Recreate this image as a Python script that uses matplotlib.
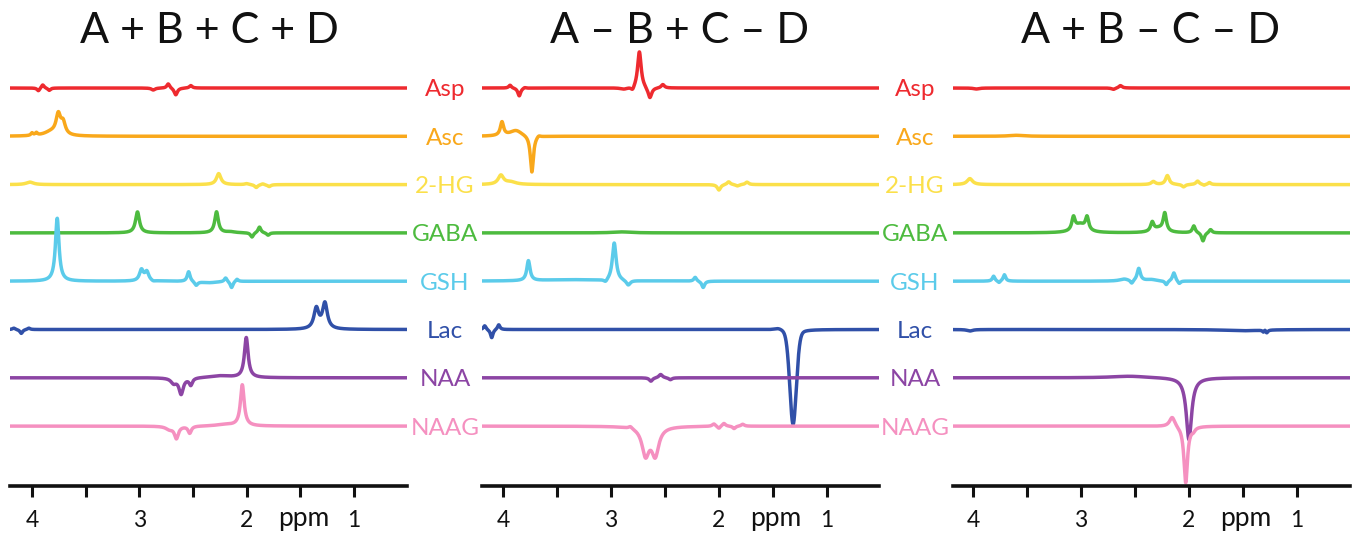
import numpy as np
import matplotlib
matplotlib.use("Agg")
import matplotlib.pyplot as plt
from matplotlib.transforms import blended_transform_factory

plt.rcParams["font.family"] = ["Lato", "DejaVu Sans"]

# ---------------- data ----------------
metabolites = ["Asp", "Asc", "2-HG", "GABA", "GSH", "Lac", "NAA", "NAAG"]
colors = ["#ee2a2f", "#f9a81b", "#fbe04a", "#4dbb3f", "#5bcbea", "#3050a8", "#8c45a4", "#f590c0"]
titles = ["A + B + C + D", "A \u2013 B + C \u2013 D", "A + B \u2013 C \u2013 D"]
tick_values = [4, 3.5, 3, 2.5, 2, 1.5, 1]
tick_labels = ["4", "", "3", "", "2", "", "1"]
unit_label = "ppm"

# peak tables: (ppm, amplitude, half-width [ppm], gaussian fraction)
sum_peaks = {
    "Asp": [(3.94, -3, 0.015), (3.90, 3.5, 0.015), (3.84, -2.5, 0.015), (2.87, -2, 0.02),
            (2.73, 4.5, 0.016), (2.66, -7, 0.018), (2.52, 2.5, 0.016)],
    "Asc": [(4.00, 2.5, 0.012), (3.96, 2.5, 0.012), (3.82, 4, 0.08), (3.755, 19.5, 0.025), (3.71, 11.7, 0.025)],
    "2-HG": [(4.02, 2.5, 0.04), (2.26, 11, 0.025), (2.0, 1, 0.02), (1.91, -3, 0.018),
             (1.85, 1, 0.018), (1.79, -2, 0.018)],
    "GABA": [(3.017, 21, 0.022), (2.28, 21, 0.02), (2.15, 1.0, 0.05), (1.95, -4.5, 0.016),
             (1.88, 6, 0.016), (1.80, -2.5, 0.016)],
    "GSH": [(3.765, 63, 0.02), (2.98, 11, 0.022), (2.93, 9, 0.022), (2.87, -1, 0.02),
            (2.54, 10, 0.016), (2.47, -4, 0.018), (2.35, -1.5, 0.1), (2.195, 4, 0.015),
            (2.14, -6.5, 0.015), (2.09, 2.5, 0.015)],
    "Lac": [(4.17, 1.5, 0.015), (4.10, -4, 0.015), (4.03, 1.5, 0.015), (1.35, 20.4, 0.027), (1.27, 25.6, 0.027)],
    "NAA": [(2.68, -5, 0.03), (2.61, -16, 0.024), (2.52, -7, 0.018), (2.25, 2, 0.12), (2.003, 40, 0.021)],
    "NAAG": [(2.72, -3, 0.04), (2.654, -12, 0.022), (2.53, -7, 0.018), (2.2, 1.5, 0.1), (2.04, 41, 0.021)],
}

diff1_peaks = {
    "Asp": [(3.935, 3, 0.015), (3.85, -8, 0.016), (3.80, 1, 0.015), (2.88, -1.5, 0.04), (2.80, -4, 0.018),
            (2.737, 37, 0.02), (2.64, -11, 0.021), (2.52, 3.5, 0.018)],
    "Asc": [(4.01, 13.5, 0.018), (3.88, 6, 0.07), (3.733, -37, 0.017), (3.67, 2, 0.02)],
    "2-HG": [(4.02, 9, 0.03), (3.93, 2.5, 0.06), (2.0, -5.5, 0.018), (1.91, 3, 0.018),
             (1.83, -1.5, 0.018), (1.74, 2.5, 0.018)],
    "GABA": [(2.9, 1, 0.1)],
    "GSH": [(3.765, 20, 0.018), (3.4, 1.5, 0.3), (3.05, -3, 0.02), (2.97, 38, 0.021),
            (2.84, -5, 0.022), (2.22, 4, 0.015), (2.146, -6.5, 0.016)],
    "Lac": [(4.17, 4, 0.014), (4.105, -8.5, 0.014), (4.04, 5, 0.014), (1.45, 2, 0.05), (1.313, -95, 0.036, 0.8)],
    "NAA": [(2.63, -3.5, 0.018), (2.54, 3.5, 0.02), (2.45, -2, 0.018)],
    "NAAG": [(2.82, 2.3, 0.02), (2.68, -27.5, 0.04), (2.59, -27.5, 0.04), (2.047, 2.5, 0.018),
             (2.0, -2.5, 0.015), (1.954, 3, 0.018), (1.86, -2.5, 0.015), (1.78, 2, 0.018)],
}

diff2_peaks = {
    "Asp": [(3.97, -1, 0.03), (2.70, -1.5, 0.02), (2.635, 2.5, 0.018)],
    "Asc": [(3.6, 1, 0.08)],
    "2-HG": [(4.03, 6, 0.03), (2.33, 3, 0.022), (2.20, 9, 0.02), (2.05, -2.5, 0.018),
             (1.92, 3.5, 0.018), (1.86, -1, 0.012), (1.81, 2, 0.015)],
    "GABA": [(3.07, 13, 0.018), (2.944, 13, 0.018), (3.007, 8, 0.06), (2.34, 9, 0.018),
             (2.224, 18, 0.018), (2.28, 4, 0.06), (1.955, 7, 0.016), (1.87, -8.5, 0.016), (1.80, 3.5, 0.016)],
    "GSH": [(3.81, 5, 0.014), (3.76, -2, 0.014), (3.71, 6.5, 0.014), (2.6, 2, 0.05), (2.53, -3.5, 0.015),
            (2.465, 12.5, 0.018), (2.35, 1.5, 0.06), (2.21, -4, 0.015), (2.14, 8.5, 0.016), (2.09, -3, 0.015)],
    "Lac": [(4.03, -1.5, 0.03), (1.5, -1.2, 0.2), (1.31, -2, 0.01), (1.295, 1.5, 0.01), (1.28, -3, 0.012)],
    "NAA": [(2.55, 1.7, 0.2), (2.0, -62, 0.03)],
    "NAAG": [(2.155, 10, 0.03), (2.03, -57, 0.02), (1.96, -3, 0.02)],
}

panels = [sum_peaks, diff1_peaks, diff2_peaks]
xlims = [(4.205, 0.505), (4.195, 0.517), (4.186, 0.508)]

# ---------------- layout (pixel based) ----------------
W, H = 1358, 533
panel_left = [10, 482, 953]
panel_width = 397
axis_y = 486
top_y = 40
row0_y = 88
row_step = 48.3
label_x = [445, 915, None]
title_x = [209, 680, 1151]


def spectrum(x, peaks):
    y = np.zeros_like(x)
    for p in peaks:
        c, a, w = p[:3]
        g = p[3] if len(p) > 3 else 0.0
        u = (x - c) / w
        y += a * ((1 - g) / (1 + u ** 2) + g * np.exp(-np.log(2) * u ** 2))
    return y


fig = plt.figure(figsize=(W / 100, H / 100), dpi=100)
x = np.linspace(4.25, 0.45, 4000)

for i, peaks in enumerate(panels):
    ax = fig.add_axes([panel_left[i] / W, (H - axis_y) / H, panel_width / W, (axis_y - top_y) / H])
    ax.set_xlim(*xlims[i])
    ax.set_ylim(0, axis_y - top_y)
    for k, name in enumerate(metabolites):
        base = axis_y - (row0_y + k * row_step)
        ax.plot(x, base + spectrum(x, peaks[name]), color=colors[k], lw=2.5,
                solid_joinstyle="round", clip_on=True)
    for s in ["top", "left", "right"]:
        ax.spines[s].set_visible(False)
    ax.spines["bottom"].set_linewidth(2.6)
    ax.spines["bottom"].set_color("#111111")
    ax.set_yticks([])
    ax.set_xticks(tick_values)
    ax.set_xticklabels(tick_labels)
    ax.tick_params(axis="x", direction="out", length=8, width=2.2, pad=9,
                   labelsize=16.5, colors="#111111")
    trans = blended_transform_factory(ax.transData, ax.transAxes)
    ax.text(1.47, -(526 - axis_y) / (axis_y - top_y), unit_label, transform=trans,
            ha="center", va="baseline", fontsize=19, color="#111111")
    if label_x[i] is not None:
        tl = blended_transform_factory(fig.transFigure, ax.transData)
        for k, name in enumerate(metabolites):
            base = axis_y - (row0_y + k * row_step)
            ax.text(label_x[i] / W, base - 8.5, name, transform=tl, ha="center",
                    va="baseline", fontsize=17.5, color=colors[k], clip_on=False)
    fig.text(title_x[i] / W, 1 - 43 / H, titles[i], ha="center", va="baseline",
             fontsize=31, fontweight="normal", color="#111111")

fig.savefig("out.png", dpi=100, facecolor="white")
